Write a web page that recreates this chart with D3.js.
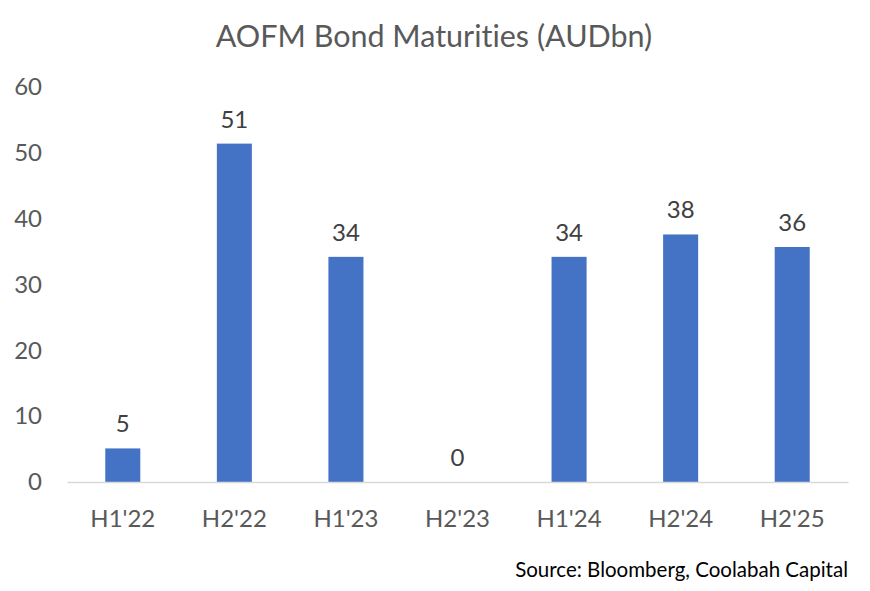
<!DOCTYPE html>
<html>
<head>
<meta charset="utf-8">
<script src="https://cdn.jsdelivr.net/npm/d3@7"></script>
<style>
  body { margin: 0; background: #fff; }
  text { font-family: Lato, "Open Sans", sans-serif; font-variant-ligatures: none; }
</style>
</head>
<body>
<svg id="chart"></svg>
<script>
const categories = ["H1'22", "H2'22", "H1'23", "H2'23", "H1'24", "H2'24", "H2'25"];
const values = [5.1, 51.4, 34.2, 0, 34.2, 37.6, 35.7];
const yTicks = [0, 10, 20, 30, 40, 50, 60];

const width = 870, height = 591;
const margin = { left: 67, right: 22, top: 87, bottom: 109 };

const svg = d3.select('#chart')
  .attr('width', width)
  .attr('height', height);

const g = svg.append('g')
  .attr('transform', `translate(${margin.left},${margin.top})`);

const w = width - margin.left - margin.right;
const h = height - margin.top - margin.bottom;

const x = d3.scaleBand()
  .domain(categories)
  .range([0, w])
  .paddingInner(0.686)
  .paddingOuter(0.343);

const y = d3.scaleLinear()
  .domain([0, 60])
  .range([h, 0]);

// y axis labels only, no line
const yAxis = g.append('g')
  .call(d3.axisLeft(y).tickValues(yTicks).tickSize(0).tickPadding(25));
yAxis.select('.domain').remove();
yAxis.selectAll('text')
  .attr('fill', '#595959')
  .style('font-size', '24px')
  .style('font-family', 'Lato, sans-serif');

// bars
g.selectAll('.bar')
  .data(values)
  .join('rect')
    .attr('class', 'bar')
    .attr('x', (d, i) => x(categories[i]))
    .attr('y', d => y(d))
    .attr('width', x.bandwidth())
    .attr('height', d => h - y(d))
    .attr('fill', '#4472C4');

// x axis
const xAxis = g.append('g')
  .attr('transform', `translate(0,${h})`)
  .call(d3.axisBottom(x).tickSize(0).tickPadding(28));
xAxis.select('.domain')
  .attr('stroke', '#D9D9D9')
  .attr('stroke-width', 1.5);
xAxis.selectAll('text')
  .attr('fill', '#595959')
  .style('font-size', '24px')
  .style('font-family', 'Lato, sans-serif');

// data labels
g.selectAll('.label')
  .data(values)
  .join('text')
    .attr('class', 'label')
    .attr('x', (d, i) => x(categories[i]) + x.bandwidth() / 2)
    .attr('y', d => y(d) - 16)
    .attr('text-anchor', 'middle')
    .attr('fill', '#404040')
    .style('font-size', '24px')
    .text(d => d3.format('.0f')(d));

// title
svg.append('text')
  .attr('x', 434)
  .attr('y', 47)
  .attr('text-anchor', 'middle')
  .attr('fill', '#595959')
  .style('font-size', '30.5px')
  .text('AOFM Bond Maturities (AUDbn)');

// source
svg.append('text')
  .attr('x', 848)
  .attr('y', 577)
  .attr('text-anchor', 'end')
  .attr('fill', '#000')
  .style('font-size', '20.5px')
  .text('Source: Bloomberg, Coolabah Capital');
</script>
</body>
</html>
